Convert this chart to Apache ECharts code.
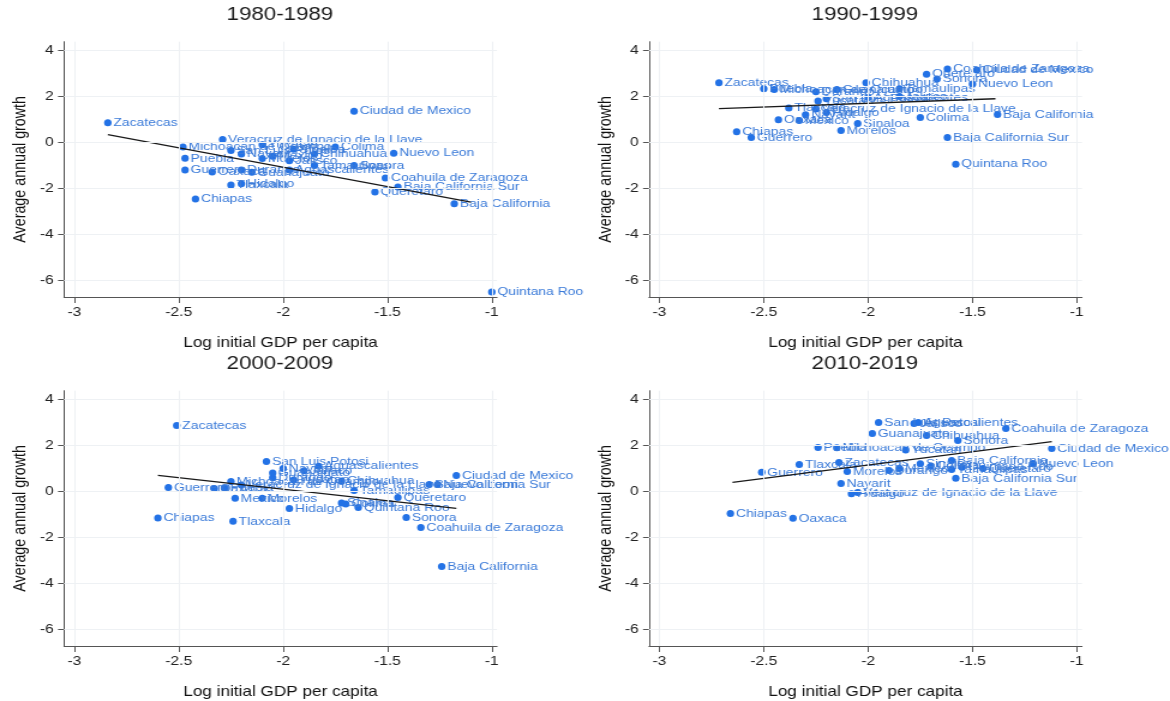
<!DOCTYPE html>
<html><head><meta charset="utf-8">
<script src="https://cdn.jsdelivr.net/npm/echarts@6/dist/echarts.min.js"></script>
<style>html,body{margin:0;padding:0;background:#fff;overflow:hidden;width:1170px;height:701px}
#c{width:975px;height:701px;transform:scaleX(1.2);transform-origin:0 0}</style>
</head><body><div id="c"></div>
<script>
const states = ["Aguascalientes","Baja California","Baja California Sur","Chiapas","Chihuahua","Ciudad de Mexico","Coahuila de Zaragoza","Colima","Durango","Guanajuato","Guerrero","Hidalgo","Jalisco","Mexico","Michoacan de Ocampo","Morelos","Nayarit","Nuevo Leon","Oaxaca","Puebla","Queretaro","Quintana Roo","San Luis Potosi","Sinaloa","Sonora","Tamaulipas","Tlaxcala","Veracruz de Ignacio de la Llave","Yucatan","Zacatecas"];
const periods = ["1980-1989","1990-1999","2000-2009","2010-2019"];
const x1980 = [-1.97,-1.18,-1.45,-2.42,-1.85,-1.66,-1.51,-1.75,-2.2,-2.15,-2.47,-2.2,-1.97,-2.05,-2.48,-2.1,-2.2,-1.47,-2.34,-2.47,-1.56,-1.0,-2.25,-1.95,-1.66,-1.85,-2.25,-2.29,-2.1,-2.84];
const y1980 = [-1.2,-2.67,-1.94,-2.46,-0.5,1.36,-1.55,-0.2,-1.2,-1.3,-1.2,-1.8,-0.8,-0.6,-0.2,-0.7,-0.5,-0.47,-1.28,-0.69,-2.16,-6.5,-0.35,-0.3,-1.0,-1.0,-1.85,0.13,-0.1,0.86];
const x1990 = [-2.0,-1.38,-1.62,-2.63,-2.01,-1.48,-1.62,-1.75,-2.25,-2.15,-2.56,-2.2,-1.85,-2.33,-2.45,-2.13,-2.3,-1.5,-2.43,-2.5,-1.72,-1.58,-2.2,-2.05,-1.67,-1.85,-2.38,-2.25,-2.24,-2.715];
const y1990 = [1.95,1.21,0.22,0.47,2.59,3.15,3.19,1.08,2.2,2.3,0.22,1.3,2.0,0.95,2.3,0.52,1.2,2.54,0.99,2.33,2.97,-0.95,1.9,0.82,2.76,2.33,1.5,1.45,1.8,2.59];
const x2000 = [-1.83,-1.24,-1.3,-2.6,-1.72,-1.17,-1.34,-1.7,-2.05,-2.05,-2.55,-1.97,-1.9,-2.23,-2.25,-2.1,-2.0,-1.26,-2.33,-2.28,-1.45,-1.64,-2.08,-1.72,-1.41,-1.66,-2.24,-2.2,-1.95,-2.51];
const y2000 = [1.1,-3.26,0.3,-1.15,0.45,0.69,-1.57,-0.55,0.6,0.8,0.17,-0.74,0.9,-0.3,0.43,-0.3,1.0,0.3,0.13,0.15,-0.26,-0.7,1.3,-0.5,-1.13,0.04,-1.3,0.28,0.5,2.87];
const x2010 = [-1.76,-1.6,-1.58,-2.66,-1.72,-1.12,-1.34,-1.7,-1.9,-1.98,-2.51,-2.08,-1.78,-1.85,-2.15,-2.1,-2.13,-1.21,-2.36,-2.24,-1.45,-1.55,-1.95,-1.75,-1.57,-1.6,-2.33,-2.05,-1.82,-2.14];
const y2010 = [3.0,1.35,0.57,-0.96,2.43,1.87,2.74,1.1,0.91,2.52,0.83,-0.1,2.95,1.0,1.9,0.87,0.35,1.22,-1.17,1.91,1.0,1.05,3.0,1.2,2.22,0.95,1.17,-0.05,1.8,1.26];
const fit1980 = [[-2.84,0.34],[-1.1,-2.6]];
const fit1990 = [[-2.715,1.47],[-1.39,1.9]];
const fit2000 = [[-2.6,0.7],[-1.17,-0.74]];
const fit2010 = [[-2.65,0.39],[-1.12,2.17]];
const xTicks = [-3,-2.5,-2,-1.5,-1];
const yTicks = [-6,-4,-2,0,2,4];
const xName = "Log initial GDP per capita";
const yName = "Average annual growth";

const S = 1.2; // horizontal stretch of the page
const xs = [x1980,x1990,x2000,x2010];
const ys = [y1980,y1990,y2000,y2010];
const fits = [fit1980,fit1990,fit2000,fit2010];
const lefts = [64/S,649/S], tops = [41.7,390.7];
const W = 433/S, H = 255.3;
const FONT = "Liberation Sans, Arial, sans-serif";

const grid=[], xAxis=[], yAxis=[], series=[], title=[];
for (let i=0;i<4;i++){
  const L = lefts[i%2], T = tops[Math.floor(i/2)];
  grid.push({left:L, top:T, width:W, height:H});
  title.push({text:periods[i], left:L+W/2-0.5, top:T-36, padding:0, textAlign:'center',
    textStyle:{fontFamily:FONT,fontSize:18.6,fontWeight:'normal',color:'#1a1a1a'}});
  xAxis.push({type:'value', gridIndex:i, min:-3.05, max:-0.975,
    name:xName, nameLocation:'middle', nameGap:39,
    nameTextStyle:{fontFamily:FONT,fontSize:14.3,color:'#111'},
    axisLine:{show:true,onZero:false,lineStyle:{color:'#555',width:1}},
    axisTick:{show:true,length:6,customValues:xTicks,lineStyle:{color:'#555'}},
    axisLabel:{customValues:xTicks,fontFamily:FONT,fontSize:13,color:'#222',margin:9,formatter:v=>String(v)},
    splitLine:{show:false}});
  yAxis.push({type:'value', gridIndex:i, min:-6.72, max:4.38,
    name:yName, nameLocation:'middle', nameGap:29,
    nameTextStyle:{fontFamily:FONT,fontSize:14.3,color:'#111'},
    axisLine:{show:true,onZero:false,lineStyle:{color:'#555',width:1}},
    axisTick:{show:true,length:5,customValues:yTicks,lineStyle:{color:'#555'}},
    axisLabel:{customValues:yTicks,fontFamily:FONT,fontSize:13,color:'#222',margin:8.5,formatter:v=>String(v)},
    splitLine:{show:false}});
  series.push({type:'line', xAxisIndex:i, yAxisIndex:i, data:[], silent:true, z:1,
    markLine:{silent:true, symbol:'none', label:{show:false}, animation:false,
      lineStyle:{color:'#eef1f4',type:'solid',width:1},
      data: xTicks.map(v=>({xAxis:v})).concat(yTicks.map(v=>({yAxis:v})))}});
  series.push({type:'scatter', xAxisIndex:i, yAxisIndex:i, z:3,
    symbolSize:[7.5/S,7],
    itemStyle:{color:'#2372e6',opacity:1},
    label:{show:true, position:'right', distance:1.5, formatter:p=>p.data[2],
      fontFamily:FONT, fontSize:11.6, color:'#3b7bd9'},
    data: xs[i].map((x,k)=>[x, ys[i][k], states[k]]), animation:false});
  series.push({type:'line', xAxisIndex:i, yAxisIndex:i, z:4, symbol:'none',
    lineStyle:{color:'#1a1a1a',width:1.3}, data:fits[i], animation:false});
}
const chart = echarts.init(document.getElementById('c'));
chart.setOption({animation:false, backgroundColor:'#fff', title, grid, xAxis, yAxis, series});
</script></body></html>
